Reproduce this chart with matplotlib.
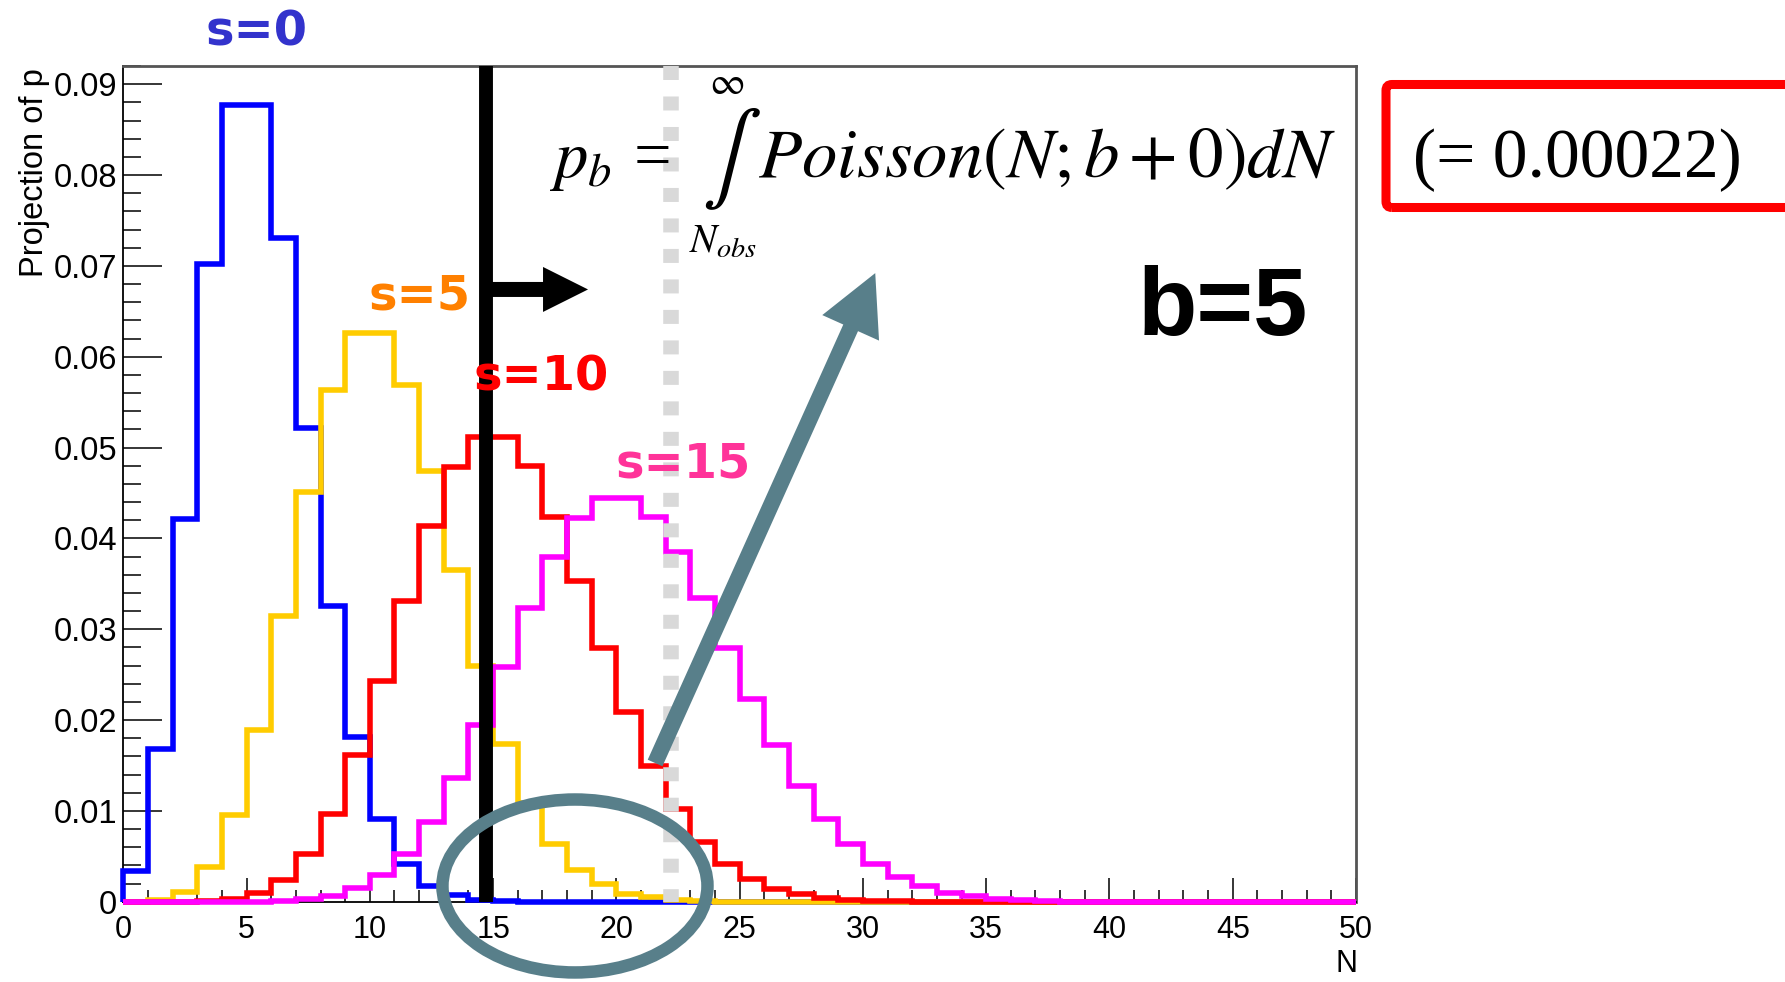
import numpy as np
import matplotlib.pyplot as plt
from matplotlib.ticker import MultipleLocator, FuncFormatter
from matplotlib.patches import Ellipse, FancyBboxPatch

plt.rcParams['font.family'] = ['Liberation Sans', 'DejaVu Sans']
plt.rcParams['mathtext.fontset'] = 'stix'

W, H = 1785, 982

# one bin per count, N = 0..50
edges = np.arange(0, 51)

# bin contents (b = 5, signal s = 0, 5, 10, 15)
h_s0 = [0.0034, 0.0168, 0.0421, 0.0702, 0.0877, 0.0877, 0.0731, 0.0522, 0.0326, 0.0181,
        0.0091, 0.0041, 0.0017, 0.0007, 0.0002, 0.0001]
h_s5 = [0.0000, 0.0002, 0.0011, 0.0038, 0.0095, 0.0189, 0.0315, 0.0451, 0.0563, 0.0626,
        0.0626, 0.0569, 0.0474, 0.0365, 0.0260, 0.0174, 0.0109, 0.0064, 0.0035, 0.0019,
        0.0009, 0.0005, 0.0002, 0.0001]
h_s10 = [0.0000, 0.0000, 0.0000, 0.0001, 0.0003, 0.0010, 0.0024, 0.0052, 0.0097, 0.0162,
         0.0243, 0.0331, 0.0414, 0.0478, 0.0512, 0.0512, 0.0480, 0.0424, 0.0353, 0.0279,
         0.0209, 0.0149, 0.0102, 0.0066, 0.0042, 0.0025, 0.0014, 0.0008, 0.0004, 0.0002,
         0.0001, 0.0001]
h_s15 = [0.0000, 0.0000, 0.0000, 0.0000, 0.0000, 0.0000, 0.0001, 0.0003, 0.0006, 0.0015,
         0.0029, 0.0053, 0.0088, 0.0136, 0.0194, 0.0258, 0.0323, 0.0380, 0.0422, 0.0444,
         0.0444, 0.0423, 0.0385, 0.0334, 0.0279, 0.0223, 0.0172, 0.0127, 0.0091, 0.0063,
         0.0042, 0.0027, 0.0017, 0.0010, 0.0006, 0.0003, 0.0002, 0.0001]

series = [h_s0, h_s5, h_s10, h_s15]
colors = ['#0000ff', '#ffcc00', '#ff0000', '#ff00ff']

n_obs = 14.73      # observed count (black line)
n_cut = 22.2       # grey dotted line
teal = '#587f8a'


def fx(x):
    return x / W


def fy(y):
    return 1 - y / H


def pad50(v):
    return list(v) + [0.0] * (50 - len(v))


fig = plt.figure(figsize=(W / 100, H / 100), dpi=100)
ax = fig.add_axes([fx(123.3), fy(901.7), (1356 - 123.3) / W, (901.7 - 66) / H])

for k, (vals, c) in enumerate(zip(series, colors)):
    ax.stairs(pad50(vals), edges, color=c, lw=4.0, zorder=3 + k * 0.1, clip_on=False)

ax.set_xlim(0, 50)
ax.set_ylim(0, 0.092)

# ROOT style axes
ax.xaxis.set_major_locator(MultipleLocator(5))
ax.xaxis.set_minor_locator(MultipleLocator(1))
ax.yaxis.set_major_locator(MultipleLocator(0.01))
ax.yaxis.set_minor_locator(MultipleLocator(0.002))
ax.yaxis.set_major_formatter(FuncFormatter(lambda v, p: '0' if abs(v) < 1e-9 else f'{v:.2f}'))
ax.xaxis.set_major_formatter(FuncFormatter(lambda v, p: f'{v:.0f}'))
ax.tick_params(axis='y', which='major', direction='in', length=28, width=1.1, labelsize=23.5, pad=4.3)
ax.tick_params(axis='y', which='minor', direction='in', length=13, width=1.1)
ax.tick_params(axis='x', which='major', direction='in', length=17, width=1.1, labelsize=22, pad=9.6)
ax.tick_params(axis='x', which='minor', direction='in', length=8.6, width=1.1)
ax.tick_params(top=False, right=False, which='both')
for s in ['left', 'bottom']:
    ax.spines[s].set_linewidth(1.3)
for s in ['top', 'right']:
    ax.spines[s].set_color('#555555')
    ax.spines[s].set_linewidth(2)

fig.text(fx(34.5), fy(68), 'Projection of p', rotation=90, ha='center', va='top', fontsize=23.5)
fig.text(fx(1357), fy(972), 'N', ha='right', va='baseline', fontsize=22)

# observed value and the p-value region
ax.axvline(n_obs, color='k', lw=10, zorder=6)
ax.plot([n_cut, n_cut], [0.092, 0], color='#d9d9d9', lw=11.2, dashes=(0.9, 1.06),
        solid_capstyle='butt', dash_capstyle='butt', zorder=7, clip_on=False)

ax.annotate('', xy=(18.85, 0.0674), xytext=(n_obs, 0.0674), annotation_clip=False,
            arrowprops=dict(arrowstyle='simple,head_length=0.9,head_width=0.9,tail_width=0.3',
                            fc='k', ec='none', lw=0, shrinkA=0, shrinkB=0, mutation_scale=36),
            zorder=8)
ax.annotate('', xy=(30.5, 0.0692), xytext=(21.57, 0.01527), annotation_clip=False,
            arrowprops=dict(arrowstyle='simple,head_length=1.08,head_width=1.12,tail_width=0.29',
                            fc=teal, ec='none', lw=0, shrinkA=0, shrinkB=0, mutation_scale=40),
            zorder=9)
ax.add_patch(Ellipse((18.32, 0.00173), 10.75, 0.01904, fill=False, ec=teal, lw=9,
                     clip_on=False, zorder=9))

# signal labels
lab_kw = dict(ha='center', va='baseline', fontsize=34.5, fontweight='bold', family='DejaVu Sans')
fig.text(fx(257), fy(45), 's=0', color='#3333cc', **lab_kw)
fig.text(fx(419.5), fy(309), 's=5', color='#ff8000', **lab_kw)
fig.text(fx(541), fy(391), 's=10', color='#ff0000', **lab_kw)
fig.text(fx(683), fy(477), 's=15', color='#ff3399', **lab_kw)

fig.text(fx(1138), fy(335), 'b=5', ha='left', va='baseline', fontsize=70, fontweight='bold')

# formula
fig.text(fx(549), fy(177), r'$p_b$', ha='left', va='baseline', fontsize=48)
fig.text(fx(652), fy(177), '=', ha='center', va='baseline', fontsize=48, family='Liberation Serif')
fig.text(fx(731), fy(159), r'$\int$', ha='center', va='center', fontsize=64)
fig.text(fx(727), fy(84), r'$\infty$', ha='center', va='center', fontsize=28)
fig.text(fx(689), fy(253), r'$N_{obs}$', ha='left', va='baseline', fontsize=29)
fig.text(fx(758), fy(177), r'$Poisson(N;b+0)dN$', ha='left', va='baseline', fontsize=51)

# red box with the value
box = FancyBboxPatch((13.86, (H - 207.5) / 100), 4.3, 1.23,
                     boxstyle='round,pad=0,rounding_size=0.06',
                     transform=fig.dpi_scale_trans, fill=False, ec='#ff0000', lw=6.5)
fig.patches.append(box)
fig.text(fx(1413), fy(177), '(= 0.00022)', ha='left', va='baseline', fontsize=50,
         family='Liberation Serif')

fig.savefig('out.png', dpi=100)
